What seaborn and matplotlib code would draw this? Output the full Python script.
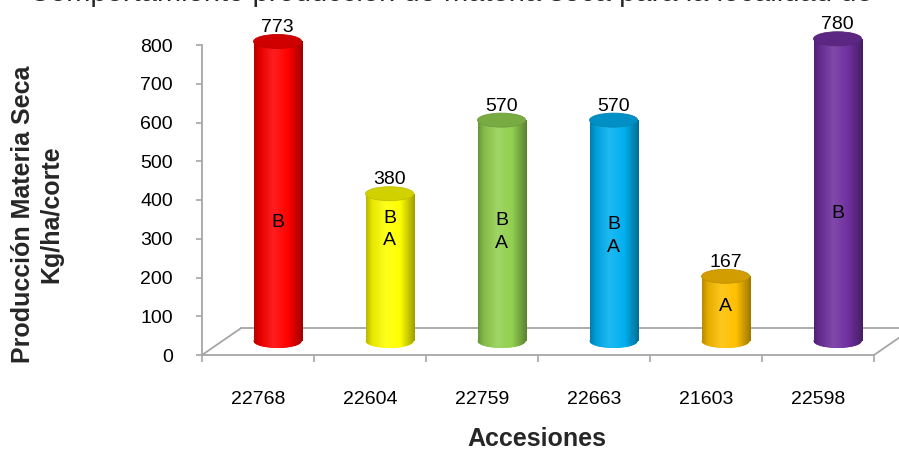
import numpy as np
import pandas as pd
import matplotlib
matplotlib.use("Agg")
import matplotlib.pyplot as plt
import seaborn as sns
from matplotlib.patches import Ellipse
from matplotlib.colors import to_rgb, LinearSegmentedColormap

# ---- data ----
accesiones = ["22768", "22604", "22759", "22663", "21603", "22598"]
produccion = [773, 380, 570, 570, 167, 780]
grupos = ["B", "B\nA", "B\nA", "B\nA", "A", "B"]
colores = ["#FF0000", "#FFFF00", "#92D050", "#00B0F0", "#FFC000", "#7030A0"]
y_ticks = [0, 100, 200, 300, 400, 500, 600, 700, 800]
grupo_y = [343, 324, 318, 308, 124, 366]   # label centre heights (data units)

titulo = "Comportamiento producción de materia seca para la localidad de"
ylabel = "Producción Materia Seca\nKg/ha/corte"
xlabel = "Accesiones"

# ---- style ----
sns.set_theme(style="white")
plt.rcParams['font.family'] = ['Liberation Sans', 'DejaVu Sans']

W, H = 899, 450
fig = plt.figure(figsize=(W / 100, H / 100), dpi=100)
ax = fig.add_axes([202 / W, 95 / H, 672 / W, 310 / H])

px_per_unit = 310 / 800.0
depth_dx = 0.175            # half depth shift (category units)
base = 14 / px_per_unit     # bar base centre above front edge
ell_h = 14 / px_per_unit    # ellipse height (data units)
bar_w = 0.43

df = pd.DataFrame({"pos": np.arange(len(accesiones)) + depth_dx,
                   "val": produccion, "acc": accesiones})
sns.barplot(data=df, x="pos", y="val", hue="acc", palette=colores,
            native_scale=True, width=bar_w, dodge=False, legend=False,
            ax=ax, linewidth=0, saturation=1)

def shade(c, f):
    r = np.array(to_rgb(c))
    if f < 1:
        return tuple(r * f)
    return tuple(r + (1 - r) * (f - 1))

patches = sorted(ax.patches, key=lambda p: p.get_x())
grad = np.linspace(0, 1, 200).reshape(1, -1)
for p, col in zip(patches, colores):
    x0, w, h = p.get_x(), p.get_width(), p.get_height()
    p.set_y(base)
    p.set_zorder(2)
    cmap = LinearSegmentedColormap.from_list(
        "cyl", [(0, shade(col, 0.72)), (0.12, shade(col, 0.9)),
                (0.4, shade(col, 1.12)), (0.7, shade(col, 1.0)),
                (1.0, shade(col, 0.62))])
    cx = x0 + w / 2
    # bottom ellipse
    be = Ellipse((cx, base), w, ell_h, facecolor=col, edgecolor="none",
                 zorder=2, clip_on=False)
    ax.add_patch(be)
    im_b = ax.imshow(grad, cmap=cmap, aspect="auto",
                     extent=[x0, x0 + w, base - ell_h, base + ell_h],
                     zorder=2.1, clip_on=True)
    im_b.set_clip_path(be)
    # body gradient
    im = ax.imshow(grad, cmap=cmap, aspect="auto",
                   extent=[x0, x0 + w, base, base + h], zorder=2.2)
    im.set_clip_path(p)
    # top ellipse
    te = Ellipse((cx, base + h), w, ell_h, facecolor=shade(col, 0.82),
                 edgecolor=shade(col, 0.75), linewidth=0.6, zorder=3,
                 clip_on=False)
    ax.add_patch(te)

ax.set_xlim(-0.5, len(accesiones) - 0.5)
ax.set_ylim(0, 800)

# ---- 3D floor ----
gray = "#A6A6A6"
back_y = 27 / px_per_unit
dx = 2 * depth_dx
n = len(accesiones)
floor_kw = dict(color=gray, lw=1.3, clip_on=False, zorder=1)
ax.plot([-0.5, -0.5 + dx], [0, back_y], **floor_kw)
ax.plot([-0.5 + dx, n - 0.5 + dx + 0.3], [back_y, back_y], **floor_kw)
ax.plot([n - 0.5, n - 0.5 + dx], [0, back_y], **floor_kw)

for s in ["top", "right"]:
    ax.spines[s].set_visible(False)
for s in ["left", "bottom"]:
    ax.spines[s].set_color(gray)
    ax.spines[s].set_linewidth(1.3)

ax.set_yticks(y_ticks)
ax.set_yticklabels([str(v) for v in y_ticks])
ax.set_xticks(np.arange(-0.5, n, 1.0))
ax.set_xticklabels([])
ax.set_xticks(np.arange(n), minor=True)
ax.set_xticklabels(accesiones, minor=True)
ax.tick_params(axis="y", which="major", left=True, length=4, width=1.2,
               color=gray, pad=17, labelsize=14, labelcolor="black")
ax.tick_params(axis="x", which="major", bottom=True, length=5, width=1.2,
               color=gray)
ax.tick_params(axis="x", which="minor", bottom=False, length=0, pad=26,
               labelsize=14, labelcolor="black")
ax.set_xlabel("")
ax.set_ylabel("")

# ---- labels ----
for i, (v, g, gy) in enumerate(zip(produccion, grupos, grupo_y)):
    ax.text(i + depth_dx, base + v + ell_h / 2 - 4, str(v), ha="center",
            va="bottom", fontsize=14, color="black", zorder=5,
            clip_on=False)
    ax.text(i + depth_dx, gy, g, ha="center", va="center", fontsize=14,
            color="black", zorder=5, linespacing=1.45)

fig.text(37 / W, 1 - 214 / H, ylabel, rotation=90, ha="center",
         va="center", fontsize=18, fontweight="bold", linespacing=1.2)
fig.text(537 / W, 1 - 439 / H, xlabel, ha="center", va="center",
         fontsize=18, fontweight="bold")
fig.text(29 / W, 1 - 1.0 / H, titulo, ha="left", va="baseline", fontsize=21)

fig.savefig("out.png", dpi=100)
